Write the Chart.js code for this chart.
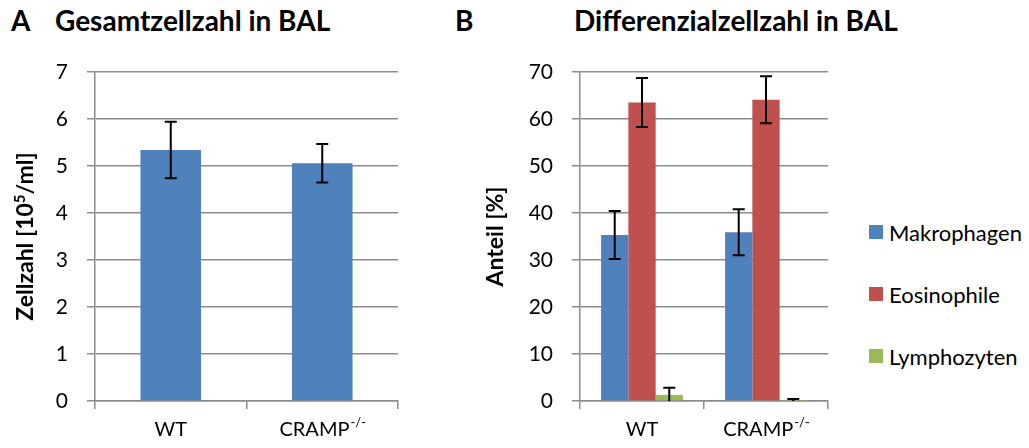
<!DOCTYPE html>
<html>
<head>
<meta charset="utf-8">
<script src="https://cdn.jsdelivr.net/npm/chart.js@4.4.1/dist/chart.umd.min.js"></script>
<style>
  body { margin: 0; background: #fff; font-family: Lato, sans-serif; }
  #page { position: relative; width: 1029px; height: 448px; overflow: hidden; }
  .box { position: absolute; top: 0; height: 448px; }
  .letter, .title { position: absolute; font-weight: bold; font-size: 28px; color: #000; white-space: nowrap; line-height: 1; }
  #legend { position: absolute; left: 869px; top: 0; font-size: 22px; color: #000; }
  .item { position: absolute; left: 0; white-space: nowrap; display: flex; align-items: center; height: 24px; }
  .sw { width: 14px; height: 14px; margin-right: 6px; }
</style>
</head>
<body>
<div id="page">
  <div class="letter" style="left:11px; top:6px;">A</div>
  <div class="title" style="left:55px; top:6px;">Gesamtzellzahl in BAL</div>
  <div class="letter" style="left:455px; top:6px;">B</div>
  <div class="title" style="left:574px; top:6px;">Differenzialzellzahl in BAL</div>
  <div class="box" style="left:0; width:420px;"><canvas id="chartA"></canvas></div>
  <div class="box" style="left:430px; width:420px;"><canvas id="chartB"></canvas></div>
  <div id="legend"></div>
</div>
<script>
const categories = ['WT', 'CRAMP'];
const categorySup = ['', '-/-'];

const totalValues = [5.34, 5.06];
const totalErrors = [0.6, 0.41];

const seriesNames = ['Makrophagen', 'Eosinophile', 'Lymphozyten'];
const seriesColors = ['#4F81BD', '#C0504D', '#9BBB59'];
const makroValues = [35.3, 35.9];
const makroErrors = [5.1, 4.9];
const eosValues = [63.5, 64.1];
const eosErrors = [5.2, 5.0];
const lymphValues = [1.3, 0.1];
const lymphErrors = [1.5, 0.3];

const ticksA = { min: 0, max: 7, step: 1 };
const ticksB = { min: 0, max: 70, step: 10 };

// axis titles: [text, superscript?]
const titleA = [['Zellzahl [10', false], ['5', true], ['/ml]', false]];
const titleB = [['Anteil [%]', false]];

const gridColor = '#8c8c8c';

// error bars, drawn from the y scale
const errorBars = {
    id: 'errorBars',
    afterDatasetsDraw(chart) {
        const ctx = chart.ctx;
        const y = chart.scales.y;
        const area = chart.chartArea;
        ctx.save();
        ctx.beginPath();
        ctx.rect(area.left - 10, area.top - 10, area.right - area.left + 20, area.bottom - area.top + 10);
        ctx.clip();
        ctx.strokeStyle = '#000';
        ctx.lineWidth = 2;
        chart.data.datasets.forEach((ds, i) => {
            const meta = chart.getDatasetMeta(i);
            meta.data.forEach((bar, j) => {
                const v = ds.data[j];
                const e = ds.errors[j];
                const top = y.getPixelForValue(v + e);
                const bot = y.getPixelForValue(v - e);
                ctx.beginPath();
                ctx.moveTo(bar.x, top);
                ctx.lineTo(bar.x, bot);
                ctx.moveTo(bar.x - 6, top);
                ctx.lineTo(bar.x + 6, top);
                ctx.moveTo(bar.x - 6, bot);
                ctx.lineTo(bar.x + 6, bot);
                ctx.stroke();
            });
        });
        ctx.restore();
    }
};

// category labels with superscript, and rotated y title
const axisText = {
    id: 'axisText',
    afterDraw(chart, args, opts) {
        const ctx = chart.ctx;
        const x = chart.scales.x;
        ctx.save();
        ctx.fillStyle = '#000';
        ctx.textBaseline = 'alphabetic';
        ctx.textAlign = 'left';
        categories.forEach((c, i) => {
            const cx = x.getPixelForValue(i);
            ctx.font = '20px Lato';
            const w1 = ctx.measureText(c).width;
            ctx.font = '13px Lato';
            const w2 = categorySup[i] ? ctx.measureText(categorySup[i]).width : 0;
            const left = cx - (w1 + w2) / 2;
            ctx.font = '20px Lato';
            ctx.fillText(c, left, 436);
            if (categorySup[i]) {
                ctx.font = '13px Lato';
                ctx.fillText(categorySup[i], left + w1 + 1, 427);
            }
        });

        // y title
        const parts = opts.parts;
        const big = 'bold 23px Lato', small = 'bold 15px Lato';
        let total = 0;
        parts.forEach(p => { ctx.font = p[1] ? small : big; total += ctx.measureText(p[0]).width; });
        const cy = (chart.chartArea.top + chart.chartArea.bottom) / 2;
        ctx.translate(opts.x, cy);
        ctx.rotate(-Math.PI / 2);
        let px = -total / 2;
        parts.forEach(p => {
            ctx.font = p[1] ? small : big;
            ctx.fillText(p[0], px, p[1] ? 0 : 8);
            px += ctx.measureText(p[0]).width;
        });
        ctx.restore();
    }
};

function scalesFor(t, yWidth) {
    return {
        x: {
            grid: { display: true, offset: true, drawOnChartArea: false, drawTicks: true, tickLength: 8, color: gridColor, lineWidth: 1.5 },
            border: { display: true, color: gridColor, width: 1.5 },
            ticks: { display: false },
            afterFit(s) { s.height = 47; }
        },
        y: {
            min: t.min, max: t.max,
            grid: { color: gridColor, lineWidth: 1.5, tickLength: 8 },
            border: { display: true, color: gridColor, width: 1.5 },
            ticks: { stepSize: t.step, padding: 19, color: '#000', font: { family: 'Lato', size: 21 } },
            afterFit(s) { s.width = yWidth; }
        }
    };
}

function optionsFor(t, yWidth, titleParts, titleX) {
    return {
        responsive: true,
        maintainAspectRatio: false,
        animation: false,
        devicePixelRatio: 1,
        layout: { padding: { left: 0, right: 22, top: 72, bottom: 0 } },
        scales: scalesFor(t, yWidth),
        plugins: {
            legend: { display: false },
            tooltip: { enabled: false },
            axisText: { parts: titleParts, x: titleX }
        }
    };
}

new Chart(document.getElementById('chartA'), {
    type: 'bar',
    data: {
        labels: categories,
        datasets: [{
            label: 'Gesamtzellzahl',
            data: totalValues,
            errors: totalErrors,
            backgroundColor: seriesColors[0],
            categoryPercentage: 1,
            barPercentage: 0.4
        }]
    },
    options: optionsFor(ticksA, 95, titleA, 25),
    plugins: [errorBars, axisText]
});

const seriesValues = [makroValues, eosValues, lymphValues];
const seriesErrors = [makroErrors, eosErrors, lymphErrors];

new Chart(document.getElementById('chartB'), {
    type: 'bar',
    data: {
        labels: categories,
        datasets: seriesNames.map((name, i) => ({
            label: name,
            data: seriesValues[i],
            errors: seriesErrors[i],
            backgroundColor: seriesColors[i],
            categoryPercentage: 0.66,
            barPercentage: 1
        }))
    },
    options: optionsFor(ticksB, 150, titleB, 65),
    plugins: [errorBars, axisText]
});

// legend
const legend = document.getElementById('legend');
const legendY = [232, 294, 356];
seriesNames.forEach((name, i) => {
    const item = document.createElement('div');
    item.className = 'item';
    item.style.top = (legendY[i] - 12) + 'px';
    const sw = document.createElement('span');
    sw.className = 'sw';
    sw.style.background = seriesColors[i];
    const tx = document.createElement('span');
    tx.textContent = name;
    item.appendChild(sw);
    item.appendChild(tx);
    legend.appendChild(item);
});
</script>
</body>
</html>
